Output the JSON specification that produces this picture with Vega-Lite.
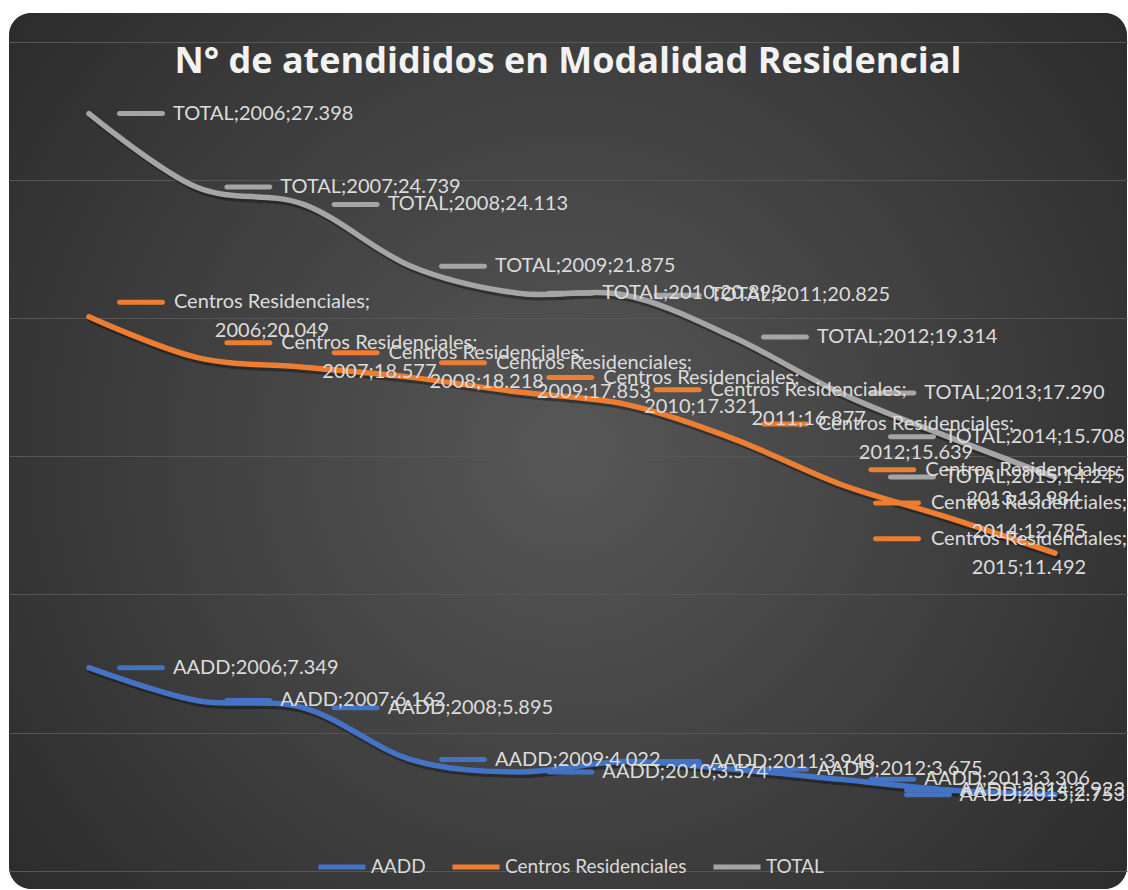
{
  "$schema": "https://vega.github.io/schema/vega-lite/v6.json",
  "width": 1118,
  "height": 876,
  "autosize": {"type": "none"},
  "padding": {"left": 9, "top": 13, "right": 1, "bottom": 1},
  "background": "white",
  "title": {
    "text": "N° de atendididos en Modalidad Residencial",
    "font": "Open Sans",
    "fontWeight": "bold",
    "fontSize": 36,
    "color": "#f2f2f2",
    "anchor": "middle",
    "dx": 0,
    "baseline": "alphabetic",
    "offset": -96
  },
  "datasets": {
    "series": [
      {"series": "AADD", "year": 2006, "value": 7.349},
      {"series": "AADD", "year": 2007, "value": 6.162},
      {"series": "AADD", "year": 2008, "value": 5.895},
      {"series": "AADD", "year": 2009, "value": 4.022},
      {"series": "AADD", "year": 2010, "value": 3.574},
      {"series": "AADD", "year": 2011, "value": 3.948},
      {"series": "AADD", "year": 2012, "value": 3.675},
      {"series": "AADD", "year": 2013, "value": 3.306},
      {"series": "AADD", "year": 2014, "value": 2.923},
      {"series": "AADD", "year": 2015, "value": 2.753},
      {"series": "Centros Residenciales", "year": 2006, "value": 20.049},
      {"series": "Centros Residenciales", "year": 2007, "value": 18.577},
      {"series": "Centros Residenciales", "year": 2008, "value": 18.218},
      {"series": "Centros Residenciales", "year": 2009, "value": 17.853},
      {"series": "Centros Residenciales", "year": 2010, "value": 17.321},
      {"series": "Centros Residenciales", "year": 2011, "value": 16.877},
      {"series": "Centros Residenciales", "year": 2012, "value": 15.639},
      {"series": "Centros Residenciales", "year": 2013, "value": 13.984},
      {"series": "Centros Residenciales", "year": 2014, "value": 12.785},
      {"series": "Centros Residenciales", "year": 2015, "value": 11.492},
      {"series": "TOTAL", "year": 2006, "value": 27.398},
      {"series": "TOTAL", "year": 2007, "value": 24.739},
      {"series": "TOTAL", "year": 2008, "value": 24.113},
      {"series": "TOTAL", "year": 2009, "value": 21.875},
      {"series": "TOTAL", "year": 2010, "value": 20.895},
      {"series": "TOTAL", "year": 2011, "value": 20.825},
      {"series": "TOTAL", "year": 2012, "value": 19.314},
      {"series": "TOTAL", "year": 2013, "value": 17.29},
      {"series": "TOTAL", "year": 2014, "value": 15.708},
      {"series": "TOTAL", "year": 2015, "value": 14.245}
    ]
  },
  "data": {"name": "series"},
  "encoding": {
    "x": {
      "field": "year",
      "type": "quantitative",
      "scale": {"domain": [2005.2546, 2015.6708], "nice": false, "zero": false},
      "axis": null
    },
    "y": {
      "field": "value",
      "type": "quantitative",
      "scale": {"domain": [-0.662, 31.039], "nice": false, "zero": false},
      "axis": {
        "values": [0, 5, 10, 15, 20, 25, 30],
        "grid": true,
        "gridColor": "#565656",
        "gridWidth": 1,
        "labels": false,
        "ticks": false,
        "domain": false,
        "title": null
      }
    },
    "color": {
      "field": "series",
      "type": "nominal",
      "scale": {
        "domain": ["AADD", "Centros Residenciales", "TOTAL"],
        "range": ["#4472C4", "#ED7D31", "#A5A5A5"]
      },
      "legend": {
        "orient": "none",
        "legendX": 307,
        "legendY": 828,
        "direction": "horizontal",
        "title": null,
        "symbolType": "stroke",
        "symbolSize": 2209,
        "symbolStrokeWidth": 5,
        "labelFont": "Lato",
        "labelFontSize": 19,
        "labelColor": "#d9d9d9",
        "labelOffset": 3,
        "columnPadding": 16,
        "padding": 0,
        "labelLimit": 300
      }
    }
  },
  "layer": [
    {
      "mark": {"type": "line", "interpolate": "cardinal", "strokeWidth": 6, "opacity": 0.35, "xOffset": 2, "yOffset": 3, "strokeCap": "round"},
      "encoding": {"color": {"value": "#000000"}, "detail": {"field": "series"}}
    },
    {
      "mark": {"type": "line", "interpolate": "cardinal", "strokeWidth": 5.5, "strokeCap": "round"}
    },
    {
      "transform": [{"filter": "datum.series != 'Centros Residenciales' && datum.year < 2014"}],
      "mark": {"type": "tick", "orient": "horizontal", "size": 48, "thickness": 5, "xOffset": 52, "cornerRadius": 2.5, "opacity": 1}
    },
    {
      "transform": [{"filter": "datum.series == 'Centros Residenciales' && datum.year < 2014"}],
      "mark": {"type": "tick", "orient": "horizontal", "size": 48, "thickness": 5, "xOffset": 52, "yOffset": -14.5, "cornerRadius": 2.5, "opacity": 1}
    },
    {
      "transform": [{"filter": "datum.series == 'TOTAL' && datum.year >= 2014"}],
      "mark": {"type": "tick", "orient": "horizontal", "size": 48, "thickness": 5, "xOffset": -215, "cornerRadius": 2.5, "opacity": 1},
      "encoding": {"x": {"datum": 2015.6708, "type": "quantitative"}}
    },
    {
      "transform": [{"filter": "datum.series == 'AADD' && datum.year >= 2014"}],
      "mark": {"type": "tick", "orient": "horizontal", "size": 48, "thickness": 5, "xOffset": -199, "cornerRadius": 2.5, "opacity": 1},
      "encoding": {"x": {"datum": 2015.6708, "type": "quantitative"}}
    },
    {
      "transform": [{"filter": "datum.series == 'Centros Residenciales' && datum.year >= 2014"}],
      "mark": {"type": "tick", "orient": "horizontal", "size": 48, "thickness": 5, "xOffset": -230, "yOffset": -14.5, "cornerRadius": 2.5, "opacity": 1},
      "encoding": {"x": {"datum": 2015.6708, "type": "quantitative"}}
    },
    {
      "transform": [
        {"filter": "datum.series != 'Centros Residenciales' && datum.year < 2014"},
        {"calculate": "datum.series + ';' + datum.year + ';' + format(datum.value, '.3f')", "as": "label"}
      ],
      "mark": {"type": "text", "align": "left", "baseline": "middle", "dx": 84, "font": "Lato", "fontSize": 20, "color": "#dcdcdc"},
      "encoding": {"text": {"field": "label"}, "color": {"value": "#dcdcdc"}}
    },
    {
      "transform": [
        {"filter": "datum.series != 'Centros Residenciales' && datum.year >= 2014"},
        {"calculate": "datum.series + ';' + datum.year + ';' + format(datum.value, '.3f')", "as": "label"}
      ],
      "mark": {"type": "text", "align": "right", "baseline": "middle", "dx": -2, "font": "Lato", "fontSize": 20, "color": "#dcdcdc"},
      "encoding": {"x": {"datum": 2015.6708, "type": "quantitative"}, "text": {"field": "label"}, "color": {"value": "#dcdcdc"}}
    },
    {
      "transform": [
        {"filter": "datum.series == 'Centros Residenciales' && datum.year < 2014"},
        {"calculate": "[datum.series + ';', datum.year + ';' + format(datum.value, '.3f')]", "as": "label"}
      ],
      "mark": {"type": "text", "align": "center", "baseline": "middle", "dx": 183, "dy": -14.5, "lineHeight": 29, "font": "Lato", "fontSize": 20, "color": "#dcdcdc"},
      "encoding": {"text": {"field": "label"}, "color": {"value": "#dcdcdc"}}
    },
    {
      "transform": [
        {"filter": "datum.series == 'Centros Residenciales' && datum.year >= 2014"},
        {"calculate": "[datum.series + ';', datum.year + ';' + format(datum.value, '.3f')]", "as": "label"}
      ],
      "mark": {"type": "text", "align": "center", "baseline": "middle", "dx": -98, "dy": -14.5, "lineHeight": 29, "font": "Lato", "fontSize": 20, "color": "#dcdcdc"},
      "encoding": {"x": {"datum": 2015.6708, "type": "quantitative"}, "text": {"field": "label"}, "color": {"value": "#dcdcdc"}}
    }
  ],
  "config": {
    "view": {
      "stroke": null,
      "cornerRadius": 22,
      "fill": {
        "gradient": "radial",
        "x1": 0.5, "y1": 0.5, "r1": 0,
        "x2": 0.5, "y2": 0.5, "r2": 0.72,
        "stops": [
          {"offset": 0, "color": "#575757"},
          {"offset": 1, "color": "#262626"}
        ]
      }
    }
  }
}
